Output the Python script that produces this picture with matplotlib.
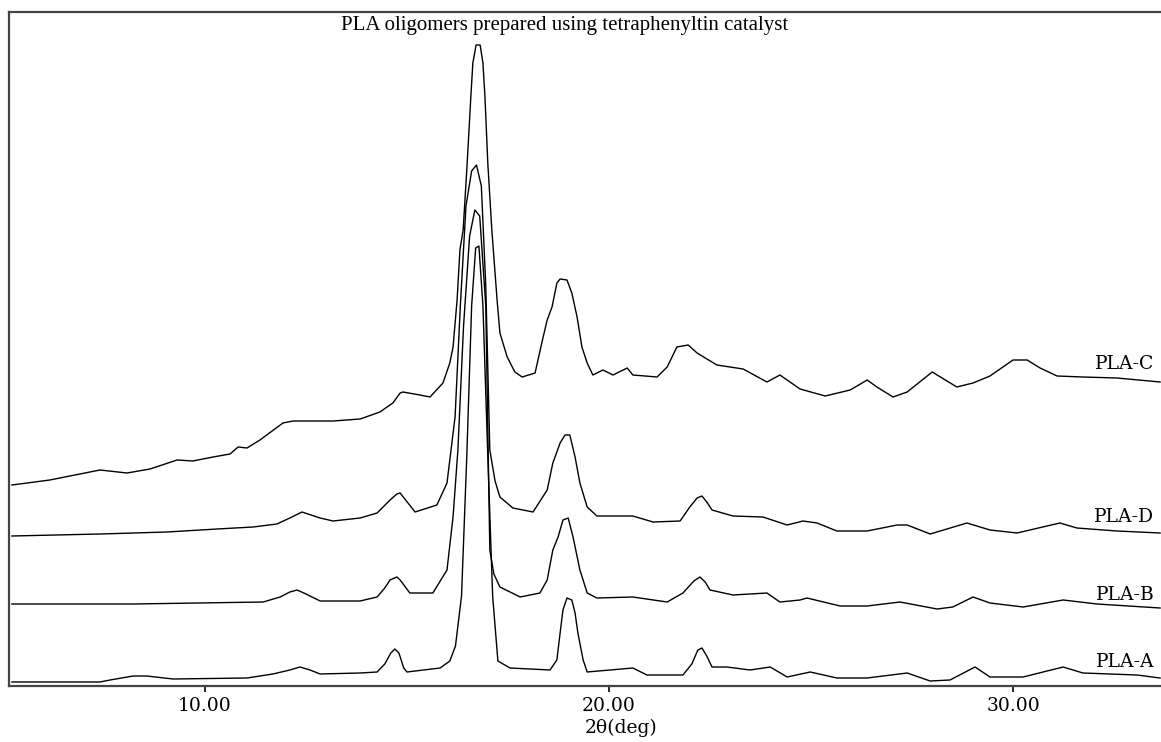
import numpy as np
import matplotlib.pyplot as plt

# XRD patterns (2theta in deg, stacked intensity in a.u.)
pla_c_x = [5.22, 6.16, 7.40, 8.07, 8.64, 9.31, 9.70, 10.20, 10.62, 10.82, 11.04,
           11.36, 11.93, 12.18, 13.17, 13.84, 14.33, 14.65, 14.83, 14.90, 15.32,
           15.57, 15.89, 16.06, 16.14, 16.24, 16.31, 16.39, 16.49, 16.58, 16.63,
           16.71, 16.81, 16.88, 16.93, 17.00, 17.10, 17.23, 17.30, 17.48, 17.67,
           17.85, 18.17, 18.37, 18.47, 18.59, 18.71, 18.79, 18.96, 19.08, 19.21,
           19.33, 19.46, 19.60, 19.85, 20.10, 20.45, 20.59, 21.19, 21.44, 21.68,
           21.96, 22.18, 22.67, 23.32, 23.91, 24.23, 24.73, 25.35, 25.97, 26.39,
           26.63, 27.03, 27.38, 28.00, 28.61, 29.01, 29.43, 30.00, 30.35, 30.67,
           31.09, 31.73, 32.57, 33.64]
pla_c_y = [201, 206, 216, 213, 217, 226, 225, 229, 232, 239, 238,
           246, 263, 265, 265, 267, 274, 283, 293, 294, 291,
           289, 303, 323, 339, 386, 436, 456, 523, 589, 623,
           641, 641, 623, 589, 523, 456, 386, 353, 329, 314,
           309, 313, 349, 366, 379, 403, 407, 406, 393, 369,
           339, 323, 311, 316, 311, 318, 311, 309, 319, 339,
           341, 333, 321, 317, 304, 311, 297, 290, 296, 306,
           299, 289, 294, 314, 299, 303, 310, 326, 326, 318,
           310, 309, 308, 304]

pla_d_x = [5.22, 7.40, 9.06, 10.30, 11.19, 11.78, 12.10, 12.40, 12.85, 13.17,
           13.84, 14.26, 14.58, 14.75, 14.83, 15.20, 15.74, 15.99, 16.19, 16.32,
           16.46, 16.60, 16.72, 16.84, 16.95, 17.05, 17.18, 17.30, 17.62, 18.12,
           18.47, 18.61, 18.79, 18.91, 19.03, 19.16, 19.28, 19.46, 19.70, 20.59,
           21.09, 21.76, 22.00, 22.18, 22.30, 22.42, 22.55, 23.07, 23.81, 24.41,
           24.80, 25.15, 25.64, 26.39, 27.13, 27.38, 27.95, 28.86, 29.43, 30.10,
           31.16, 31.58, 32.57, 33.64]
pla_d_y = [150, 152, 154, 157, 159, 162, 168, 174, 168, 165,
           168, 173, 186, 192, 193, 174, 181, 203, 269, 380,
           480, 515, 521, 500, 400, 236, 205, 189, 178, 174,
           196, 223, 243, 251, 251, 229, 203, 179, 170, 170,
           164, 165, 179, 188, 190, 184, 176, 170, 169, 161,
           165, 163, 155, 155, 161, 161, 152, 163, 156, 153,
           163, 158, 155, 153]

pla_b_x = [5.22, 8.22, 11.44, 11.86, 12.10, 12.28, 12.50, 12.85, 13.84, 14.26,
           14.45, 14.58, 14.75, 14.83, 15.07, 15.64, 15.99, 16.14, 16.26, 16.40,
           16.55, 16.68, 16.80, 16.95, 17.05, 17.15, 17.30, 17.80, 18.29, 18.47,
           18.61, 18.74, 18.86, 18.99, 19.11, 19.28, 19.46, 19.70, 20.59, 21.44,
           21.83, 22.10, 22.25, 22.38, 22.50, 23.07, 23.91, 24.23, 24.73, 24.90,
           25.72, 26.39, 27.20, 28.12, 28.51, 29.01, 29.43, 30.25, 31.24, 32.08,
           33.64]
pla_b_y = [82, 82, 84, 89, 94, 96, 92, 85, 85, 89,
           98, 106, 109, 106, 93, 93, 116, 169, 236, 360,
           450, 476, 470, 380, 136, 112, 99, 89, 93, 106,
           136, 149, 166, 168, 149, 116, 93, 88, 89, 84,
           93, 105, 109, 104, 96, 91, 93, 84, 86, 88,
           80, 80, 84, 77, 79, 89, 83, 79, 86, 82,
           78]

pla_a_x = [5.22, 7.40, 7.65, 8.22, 8.56, 9.21, 11.04, 11.68, 12.10, 12.35,
           12.60, 12.85, 13.84, 14.26, 14.45, 14.60, 14.70, 14.80, 14.92, 15.00,
           15.82, 16.06, 16.20, 16.35, 16.48, 16.60, 16.70, 16.78, 16.88, 17.00,
           17.12, 17.25, 17.55, 18.54, 18.71, 18.79, 18.86, 18.96, 19.08, 19.16,
           19.23, 19.36, 19.46, 20.59, 20.94, 21.83, 22.05, 22.20, 22.30, 22.42,
           22.55, 22.92, 23.49, 23.99, 24.41, 24.98, 25.64, 26.39, 27.38, 27.95,
           28.44, 29.06, 29.43, 30.25, 31.24, 31.73, 33.07, 33.64]
pla_a_y = [4, 4, 6, 10, 10, 7, 8, 12, 16, 19,
           16, 12, 13, 14, 22, 33, 37, 33, 18, 14,
           18, 25, 40, 90, 230, 380, 438, 440, 380, 230,
           90, 25, 18, 16, 26, 53, 76, 88, 86, 73,
           53, 26, 14, 18, 11, 11, 22, 36, 38, 30,
           19, 19, 16, 19, 9, 14, 8, 8, 13, 5,
           6, 19, 9, 9, 19, 13, 11, 8]

tick_pos = [10, 20, 30]
tick_txt = ["10.00", "20.00", "30.00"]
names = ["PLA-C", "PLA-D", "PLA-B", "PLA-A"]
label_y = [317, 164, 86, 19]

fig = plt.figure(figsize=(11.61, 7.42), dpi=100)
ax = fig.add_axes([9 / 1161, 56 / 742, 1 - 9 / 1161, 674 / 742])

for xs, ys in [(pla_c_x, pla_c_y), (pla_d_x, pla_d_y),
               (pla_b_x, pla_b_y), (pla_a_x, pla_a_y)]:
    ax.plot(xs, ys, color="black", lw=1.0)

for name, ly in zip(names, label_y):
    ax.text(33.5, ly, name, ha="right", va="baseline",
            family="DejaVu Serif", fontsize=13.5)

ax.set_xlim(5.149, 33.663)
ax.set_ylim(0, 674)
ax.set_xticks(tick_pos)
ax.set_xticklabels(tick_txt, family="DejaVu Serif", fontsize=13.5)
ax.set_yticks([])
ax.tick_params(axis="x", direction="out", length=4, width=1.2, pad=4)
for side in ["left", "top", "bottom"]:
    ax.spines[side].set_color("#444444")
    ax.spines[side].set_linewidth(1.6)
ax.spines["right"].set_visible(False)

fig.text(565 / 1161, 1 - 30 / 742, "PLA oligomers prepared using tetraphenyltin catalyst",
         ha="center", va="baseline", family="Liberation Serif", fontsize=15)
fig.text(621 / 1161, 1 - 733 / 742, "2θ(deg)", ha="center", va="baseline",
         family="DejaVu Serif", fontsize=13.5)

plt.savefig("out.png", dpi=100)
